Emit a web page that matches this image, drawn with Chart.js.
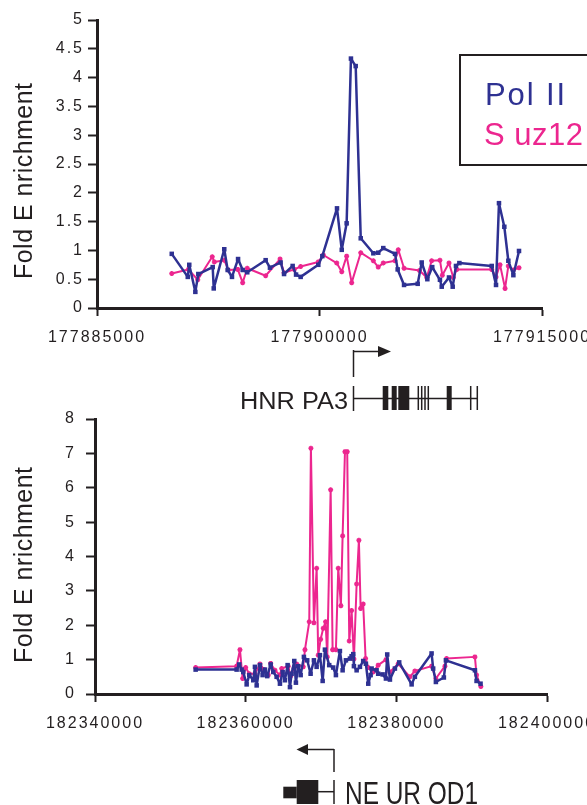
<!DOCTYPE html>
<html>
<head>
<meta charset="utf-8">
<script src="https://cdn.jsdelivr.net/npm/chart.js@4.4.1/dist/chart.umd.min.js"></script>
<style>
  html, body { margin: 0; padding: 0; background: #fff; }
  body { width: 587px; height: 805px; position: relative; overflow: hidden; }
  canvas { position: absolute; left: 0; }
  #topChart { top: 0; }
  #bottomChart { top: 395px; }
  #overlay { position: absolute; left: 0; top: 0; pointer-events: none; }
  #overlay text { font-family: "Liberation Sans", Arial, sans-serif; fill: #231f20; }
</style>
</head>
<body>
<canvas id="topChart" width="587" height="345"></canvas>
<canvas id="bottomChart" width="587" height="339"></canvas>

<svg id="overlay" width="587" height="805" xmlns="http://www.w3.org/2000/svg">
  <!-- axis titles -->
  <text x="22.5" y="190" font-size="25" text-anchor="middle" textLength="196" lengthAdjust="spacing" transform="rotate(-90 22.5 181)">Fold E nrichment</text>
  <text x="22.5" y="574" font-size="25" text-anchor="middle" textLength="196" lengthAdjust="spacing" transform="rotate(-90 22.5 565)">Fold E nrichment</text>

  <!-- legend -->
  <rect x="460" y="55" width="150" height="110" fill="#fff" stroke="#231f20" stroke-width="2"/>
  <text x="485" y="105" font-size="31" textLength="80" lengthAdjust="spacing" style="fill:#2e3192">Pol II</text>
  <text x="484" y="145" font-size="31" textLength="99" lengthAdjust="spacing" style="fill:#ec268f">S uz12</text>

  <!-- HNRPA3 gene -->
  <g stroke="#231f20" stroke-width="1.5" fill="none">
    <line x1="353.5" y1="350" x2="353.5" y2="377"/>
    <line x1="353.5" y1="351.5" x2="380" y2="351.5"/>
    <line x1="353.5" y1="386" x2="353.5" y2="411"/>
    <line x1="353.5" y1="398.5" x2="477.5" y2="398.5"/>
    <line x1="418.3" y1="386" x2="418.3" y2="410"/>
    <line x1="421.7" y1="386" x2="421.7" y2="410"/>
    <line x1="425" y1="386" x2="425" y2="410"/>
    <line x1="428.3" y1="386" x2="428.3" y2="410"/>
    <line x1="470.7" y1="386" x2="470.7" y2="410"/>
    <line x1="477.3" y1="386" x2="477.3" y2="410"/>
  </g>
  <g fill="#231f20">
    <polygon points="378,346 391,351.5 378,357"/>
    <rect x="382.7" y="386" width="5.6" height="24"/>
    <rect x="391.7" y="386" width="5" height="24"/>
    <rect x="398.3" y="386" width="11" height="24"/>
    <rect x="446.7" y="386" width="5" height="24"/>
  </g>
  <text x="348" y="409" font-size="23" text-anchor="end" textLength="108" lengthAdjust="spacingAndGlyphs">HNR PA3</text>

  <!-- NEUROD1 gene -->
  <g stroke="#231f20" stroke-width="1.5" fill="none">
    <line x1="334" y1="749" x2="334" y2="772"/>
    <line x1="334" y1="749.5" x2="306" y2="749.5"/>
    <line x1="334" y1="780" x2="334" y2="804"/>
    <line x1="318" y1="791.7" x2="334" y2="791.7"/>
  </g>
  <g fill="#231f20">
    <polygon points="308,744 296.5,749.5 308,755"/>
    <rect x="296.7" y="780" width="21.6" height="24"/>
    <rect x="283.3" y="786.7" width="13.4" height="11.6"/>
  </g>
  <text x="345" y="804" font-size="31" textLength="133" lengthAdjust="spacingAndGlyphs">NE UR OD1</text>
</svg>

<script>
// HNRPA3 locus
const hnrpa3XTicks = [177885000, 177900000, 177915000];
const hnrpa3YTicks = [0, 0.5, 1, 1.5, 2, 2.5, 3, 3.5, 4, 4.5, 5];
const hnrpa3PolX = [177890040, 177891120, 177891220, 177891630, 177891830, 177892800, 177892870, 177893580, 177893810, 177894100,
  177894510, 177894820, 177895130, 177896370, 177896660, 177897380, 177897610, 177898190, 177898420, 177898730,
  177899920, 177900190, 177901180, 177901500, 177901830, 177902120, 177902440, 177902780, 177903630, 177903960,
  177904300, 177905090, 177905270, 177905700, 177906620, 177906890, 177907270, 177907600, 177908120, 177908240,
  177908730, 177908980, 177909200, 177909430, 177911610, 177911900, 177912100, 177912460, 177912730, 177913070,
  177913450];
const hnrpa3PolY = [0.94, 0.54, 0.75, 0.28, 0.59, 0.71, 0.34, 1.02, 0.66, 0.54,
  0.85, 0.66, 0.62, 0.83, 0.70, 0.79, 0.59, 0.73, 0.58, 0.54,
  0.75, 0.90, 1.73, 1.01, 1.47, 4.33, 4.20, 1.21, 0.95, 0.96,
  1.04, 0.94, 0.67, 0.40, 0.42, 0.79, 0.50, 0.71, 0.49, 0.37,
  0.53, 0.37, 0.73, 0.78, 0.73, 0.40, 1.82, 1.41, 0.82, 0.57,
  0.99];
const hnrpa3SuzX = [177890040, 177891160, 177891790, 177892770, 177892910, 177893580, 177893850, 177894490, 177894820, 177895130,
  177896370, 177897340, 177897610, 177898300, 177898730, 177899920, 177900260, 177901160, 177901500, 177901830,
  177902170, 177902780, 177903630, 177903960, 177904300, 177905090, 177905310, 177905700, 177906740, 177907230,
  177907560, 177908120, 177908280, 177908730, 177909020, 177909250, 177911610, 177911900, 177912170, 177912510,
  177912730, 177913070, 177913450];
const hnrpa3SuzY = [0.60, 0.67, 0.49, 0.89, 0.80, 0.83, 0.66, 0.67, 0.44, 0.69,
  0.56, 0.85, 0.61, 0.67, 0.72, 0.80, 0.92, 0.78, 0.63, 0.90,
  0.44, 0.96, 0.82, 0.71, 0.78, 0.82, 1.01, 0.69, 0.65, 0.53,
  0.82, 0.83, 0.57, 0.78, 0.53, 0.67, 0.67, 0.54, 0.75, 0.34,
  0.73, 0.66, 0.70];

// NEUROD1 locus
const neurod1XTicks = [182340000, 182360000, 182380000, 182400000];
const neurod1YTicks = [0, 1, 2, 3, 4, 5, 6, 7, 8];
const neurod1PolX = [182353360, 182358800, 182359150, 182359470, 182359680, 182360130, 182360480, 182361010, 182361230, 182361460,
  182361900, 182362250, 182362560, 182362860, 182363320, 182363660, 182364110, 182364550, 182364910, 182365210,
  182365570, 182365880, 182366100, 182366450, 182366670, 182366980, 182367300, 182367730, 182368170, 182368620,
  182369060, 182369420, 182369860, 182370220, 182370520, 182371090, 182371620, 182371980, 182372510, 182372870,
  182373310, 182373840, 182374060, 182374280, 182374370, 182374730, 182375170, 182375600, 182375960, 182376270,
  182376590, 182376720, 182377380, 182377590, 182378180, 182378620, 182378790, 182379150, 182379810, 182380380,
  182382030, 182382460, 182384680, 182384890, 182385250, 182386310, 182386580, 182390430, 182390650, 182391180];
const neurod1PolY = [0.71, 0.71, 0.86, 0.71, 0.64, 0.28, 0.55, 0.40, 0.79, 0.25,
  0.84, 0.55, 0.71, 0.52, 0.86, 0.64, 0.50, 0.30, 0.64, 0.40,
  0.84, 0.20, 0.59, 0.96, 0.33, 0.81, 0.55, 1.08, 0.98, 0.59,
  0.98, 0.79, 1.13, 0.38, 1.29, 0.84, 0.77, 0.55, 1.25, 0.69,
  0.98, 1.03, 1.10, 1.16, 0.81, 0.69, 0.79, 0.96, 0.88, 0.30,
  0.55, 0.74, 0.69, 0.59, 0.57, 0.45, 1.15, 0.42, 0.74, 0.92,
  0.28, 0.50, 1.18, 0.74, 0.35, 0.48, 0.98, 0.69, 0.38, 0.30];
const neurod1SuzX = [182353360, 182358800, 182359240, 182359600, 182360000, 182360480, 182361230, 182361900, 182362430, 182363000,
  182363320, 182363890, 182364550, 182364780, 182365650, 182365970, 182366410, 182366770, 182367640, 182367870,
  182368440, 182368660, 182369060, 182369420, 182369630, 182369950, 182370300, 182370610, 182370830, 182371280,
  182371540, 182371980, 182372290, 182372640, 182372870, 182373180, 182373480, 182373750, 182374060, 182374370,
  182374730, 182375030, 182375260, 182375600, 182375920, 182376270, 182376930, 182377590, 182378620, 182379150,
  182380250, 182381800, 182382460, 182384680, 182385250, 182386450, 182386670, 182390430, 182390650, 182391220];
const neurod1SuzY = [0.77, 0.81, 1.29, 0.45, 0.77, 0.59, 0.59, 0.87, 0.71, 0.55,
  0.89, 0.69, 0.55, 0.74, 0.81, 0.52, 0.74, 0.87, 0.79, 1.29,
  2.10, 7.15, 2.07, 3.66, 1.13, 1.59, 1.91, 2.10, 1.08, 5.94,
  1.29, 1.29, 3.66, 2.57, 4.60, 7.05, 7.05, 1.54, 2.43, 1.02,
  3.20, 4.47, 2.49, 2.62, 1.03, 0.77, 0.64, 0.84, 1.00, 0.64,
  0.88, 0.50, 0.67, 0.81, 0.45, 0.81, 1.03, 1.08, 0.55, 0.22];

const POL_COLOR = "#2e3192";
const SUZ_COLOR = "#ec268f";
const INK = "#231f20";
const tickFont = { family: "'Liberation Sans', Arial, sans-serif", size: 16 };

const pairs = (xs, ys) => xs.map((x, i) => ({ x: x, y: ys[i] }));

// the original figure has wide letter spacing on every label
const spacedText = {
  id: "spacedText",
  beforeUpdate(chart) { chart.ctx.letterSpacing = "2px"; },
  beforeDraw(chart) { chart.ctx.letterSpacing = "2px"; }
};

function makeChart(id, cfg) {
  return new Chart(document.getElementById(id), {
    type: "line",
    data: {
      datasets: [
        {
          label: "Pol II",
          data: pairs(cfg.polX, cfg.polY),
          borderColor: POL_COLOR,
          backgroundColor: POL_COLOR,
          borderWidth: 2.5,
          borderJoinStyle: "round",
          pointStyle: "rect",
          pointRadius: 3.2,
          pointBorderWidth: 0,
          tension: 0
        },
        {
          label: "Suz12",
          data: pairs(cfg.suzX, cfg.suzY),
          borderColor: SUZ_COLOR,
          backgroundColor: SUZ_COLOR,
          borderWidth: 2,
          borderJoinStyle: "round",
          pointStyle: "star",
          pointRadius: 2.5,
          pointBorderWidth: 1.5,
          tension: 0
        }
      ]
    },
    options: {
      responsive: false,
      animation: false,
      devicePixelRatio: 1,
      layout: { padding: { left: 0, top: cfg.padTop, right: cfg.padRight, bottom: 0 } },
      plugins: { legend: { display: false }, tooltip: { enabled: false } },
      scales: {
        x: {
          type: "linear",
          min: cfg.xTicks[0],
          max: cfg.xTicks[cfg.xTicks.length - 1],
          afterBuildTicks: s => { s.ticks = cfg.xTicks.map(v => ({ value: v })); },
          afterFit: s => { s.height = cfg.xAxisHeight; s.paddingLeft = 0; s.paddingRight = 0; },
          ticks: { callback: v => String(v), font: tickFont, color: INK, padding: 12, maxRotation: 0, autoSkip: false },
          grid: { drawOnChartArea: false, tickLength: 8, tickWidth: 2, tickColor: INK },
          border: { color: INK, width: 3 }
        },
        y: {
          min: cfg.yTicks[0],
          max: cfg.yTicks[cfg.yTicks.length - 1],
          afterBuildTicks: s => { s.ticks = cfg.yTicks.map(v => ({ value: v })); },
          afterFit: s => { s.width = cfg.yAxisWidth; s.paddingTop = 0; s.paddingBottom = 0; },
          ticks: { callback: v => String(v), font: tickFont, color: INK, padding: cfg.yPad, autoSkip: false },
          grid: { drawOnChartArea: false, tickLength: 9, tickWidth: 2, tickColor: INK },
          border: { color: INK, width: 3 }
        }
      }
    },
    plugins: [spacedText]
  });
}

makeChart("topChart", {
  polX: hnrpa3PolX, polY: hnrpa3PolY, suzX: hnrpa3SuzX, suzY: hnrpa3SuzY,
  xTicks: hnrpa3XTicks, yTicks: hnrpa3YTicks,
  padTop: 20, padRight: 45, xAxisHeight: 37, yAxisWidth: 97, yPad: 4
});

makeChart("bottomChart", {
  polX: neurod1PolX, polY: neurod1PolY, suzX: neurod1SuzX, suzY: neurod1SuzY,
  xTicks: neurod1XTicks, yTicks: neurod1YTicks,
  padTop: 24, padRight: 40, xAxisHeight: 40, yAxisWidth: 95, yPad: 10
});
</script>
</body>
</html>
